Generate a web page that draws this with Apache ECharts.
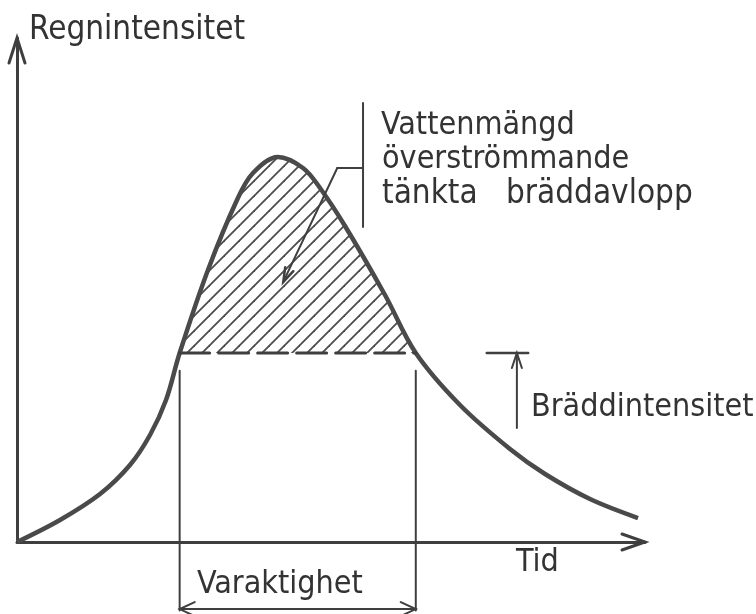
<!DOCTYPE html>
<html>
<head>
<meta charset="utf-8">
<script src="https://cdn.jsdelivr.net/npm/echarts@6/dist/echarts.min.js"></script>
<style>
  html, body { margin: 0; padding: 0; background: #fff; }
  #chart { width: 756px; height: 614px; }
</style>
</head>
<body>
<div id="chart"></div>
<script>
// Rain intensity over time, with the part above the weir overflow level hatched.
const curveTime = [0, 6.85, 13.22, 17.99, 21.18, 23.73, 25.9, 30.41, 35.03, 37.58, 41.56, 45.54, 48.25,
  52.23, 58.60, 63.5, 70.54, 78.50, 84.08, 91.24, 98.89];
const curveIntensity = [0, 4.37, 9.52, 15.28, 21.23, 28.17, 37.5, 53.97, 67.86, 73.21, 76.39, 74.21, 70.24,
  62.70, 49.01, 37.5, 27.18, 18.45, 13.49, 8.53, 4.76];

// Overflow (weir) intensity and the time span during which it is exceeded
const overflowLevel = 37.5;
const durationStart = 25.9;
const durationEnd = 63.5;
const durationLineTop = 34;
const durationLineBottom = -13.6;
const durationArrowLevel = -13.3;

// "Bräddintensitet" marker
const levelMarkerX = [74.8, 81.4];
const levelArrowX = 79.6;
const levelArrowBottom = 22.6;

// Bracket and leader for the overflow volume note
const bracketX = 55.1;
const bracketY = [62.5, 87.1];
const bracketTick = [51.0, 74.2];
const leaderTip = [42.4, 51.6];

// Axis extents
const axisMax = 100;

const ink = '#3f3f3f';
const textInk = '#333333';
const fontFamily = '"DejaVu Sans Condensed", "Liberation Sans Narrow", "DejaVu Sans", sans-serif';
const fontSize = 32;
const curveSmooth = 0.35;

// Diagonal hatch tile
const tile = document.createElement('canvas');
tile.width = 15; tile.height = 15;
(function () {
  const c = tile.getContext('2d');
  c.strokeStyle = '#4a4a4a';
  c.lineWidth = 1.8;
  c.lineCap = 'square';
  [-15, 0, 15].forEach(function (k) {
    c.beginPath();
    c.moveTo(k - 1, 16);
    c.lineTo(k + 16, -1);
    c.stroke();
  });
})();

const curveData = curveTime.map(function (t, i) { return [t, curveIntensity[i]]; });
const aboveLevel = curveData.filter(function (p) { return p[1] >= overflowLevel; });

function arrowHead(tip, from, len, half) {
  const dx = tip[0] - from[0], dy = tip[1] - from[1];
  const d = Math.hypot(dx, dy);
  const ux = dx / d, uy = dy / d;
  const bx = tip[0] - ux * len, by = tip[1] - uy * len;
  return [[bx - uy * half, by + ux * half], tip, [bx + uy * half, by - ux * half]];
}

function seg(a, b, w, dash) {
  return {
    type: 'line',
    shape: { x1: a[0], y1: a[1], x2: b[0], y2: b[1] },
    style: { stroke: ink, lineWidth: w, lineDash: dash || null, lineCap: 'round' }
  };
}

function head(pts, w) {
  return {
    type: 'polyline',
    shape: { points: pts },
    style: { stroke: ink, lineWidth: w, fill: null, lineJoin: 'miter', lineCap: 'round' }
  };
}

function renderAnnotations(params, api) {
  const c = function (x, y) { return api.coord([x, y]); };
  const children = [];

  // axis arrowheads
  children.push(head(arrowHead(c(axisMax, 0), c(axisMax - 10, 0), 23, 8), 3));
  children.push(head(arrowHead(c(0, axisMax), c(0, axisMax - 10), 25, 8), 3));

  // overflow level across the hatched area
  children.push(seg(c(durationStart, overflowLevel), c(durationEnd, overflowLevel), 3, [30, 9]));

  // duration
  children.push(seg(c(durationStart, durationLineTop), c(durationStart, durationLineBottom), 2));
  children.push(seg(c(durationEnd, durationLineTop), c(durationEnd, durationLineBottom), 2));
  const dA = c(durationStart, durationArrowLevel), dB = c(durationEnd, durationArrowLevel);
  children.push(seg(dA, dB, 2));
  children.push(head(arrowHead(dA, dB, 15, 7), 2));
  children.push(head(arrowHead(dB, dA, 15, 7), 2));

  // overflow intensity marker
  children.push(seg(c(levelMarkerX[0], overflowLevel), c(levelMarkerX[1], overflowLevel), 2.5));
  const lTip = c(levelArrowX, overflowLevel), lBase = c(levelArrowX, levelArrowBottom);
  children.push(seg(lBase, lTip, 2));
  children.push(head(arrowHead(lTip, lBase, 15, 5), 2));

  // bracket and leader
  children.push(seg(c(bracketX, bracketY[0]), c(bracketX, bracketY[1]), 2));
  children.push(seg(c(bracketTick[0], bracketTick[1]), c(bracketX, bracketTick[1]), 2));
  const tip = c(leaderTip[0], leaderTip[1]), tick = c(bracketTick[0], bracketTick[1]);
  children.push(seg(tick, tip, 2));
  children.push(head(arrowHead(tip, tick, 14, 4.5), 2.5));

  return { type: 'group', children: children };
}

function label(text, x, y, size) {
  return {
    type: 'text',
    x: x, y: y,
    style: {
      text: text,
      fill: textInk,
      fontSize: size || fontSize,
      fontFamily: fontFamily,
      align: 'left',
      verticalAlign: 'middle'
    }
  };
}

const chart = echarts.init(document.getElementById('chart'), null, { renderer: 'canvas' });
chart.setOption({
  animation: false,
  backgroundColor: '#ffffff',
  grid: { left: 17, right: 111, top: 38, bottom: 72 },
  xAxis: {
    type: 'value', min: 0, max: axisMax,
    axisLine: { lineStyle: { color: ink, width: 3 } },
    axisTick: { show: false }, axisLabel: { show: false }, splitLine: { show: false }
  },
  yAxis: {
    type: 'value', min: 0, max: axisMax,
    axisLine: { show: true, lineStyle: { color: ink, width: 3 } },
    axisTick: { show: false }, axisLabel: { show: false }, splitLine: { show: false }
  },
  graphic: [
    label('Regnintensitet', 29, 30, 33),
    label('Vattenmängd', 381, 126),
    label('överströmmande', 382, 160),
    label('tänkta   bräddavlopp', 382, 194, 33),
    label('Bräddintensitet', 531, 408),
    label('Tid', 516, 563),
    label('Varaktighet', 197, 585)
  ],
  series: [
    {
      type: 'line',
      data: aboveLevel,
      smooth: curveSmooth,
      symbol: 'none',
      lineStyle: { width: 0 },
      areaStyle: { origin: overflowLevel, color: { image: tile, repeat: 'repeat' }, opacity: 1 },
      z: 2
    },
    {
      type: 'line',
      data: curveData,
      smooth: curveSmooth,
      symbol: 'none',
      clip: false,
      lineStyle: { color: '#4a4a4a', width: 4.5 },
      z: 3
    },
    {
      type: 'custom',
      data: [[0, 0]],
      renderItem: renderAnnotations,
      clip: false,
      silent: true,
      z: 4
    }
  ]
});
</script>
</body>
</html>
